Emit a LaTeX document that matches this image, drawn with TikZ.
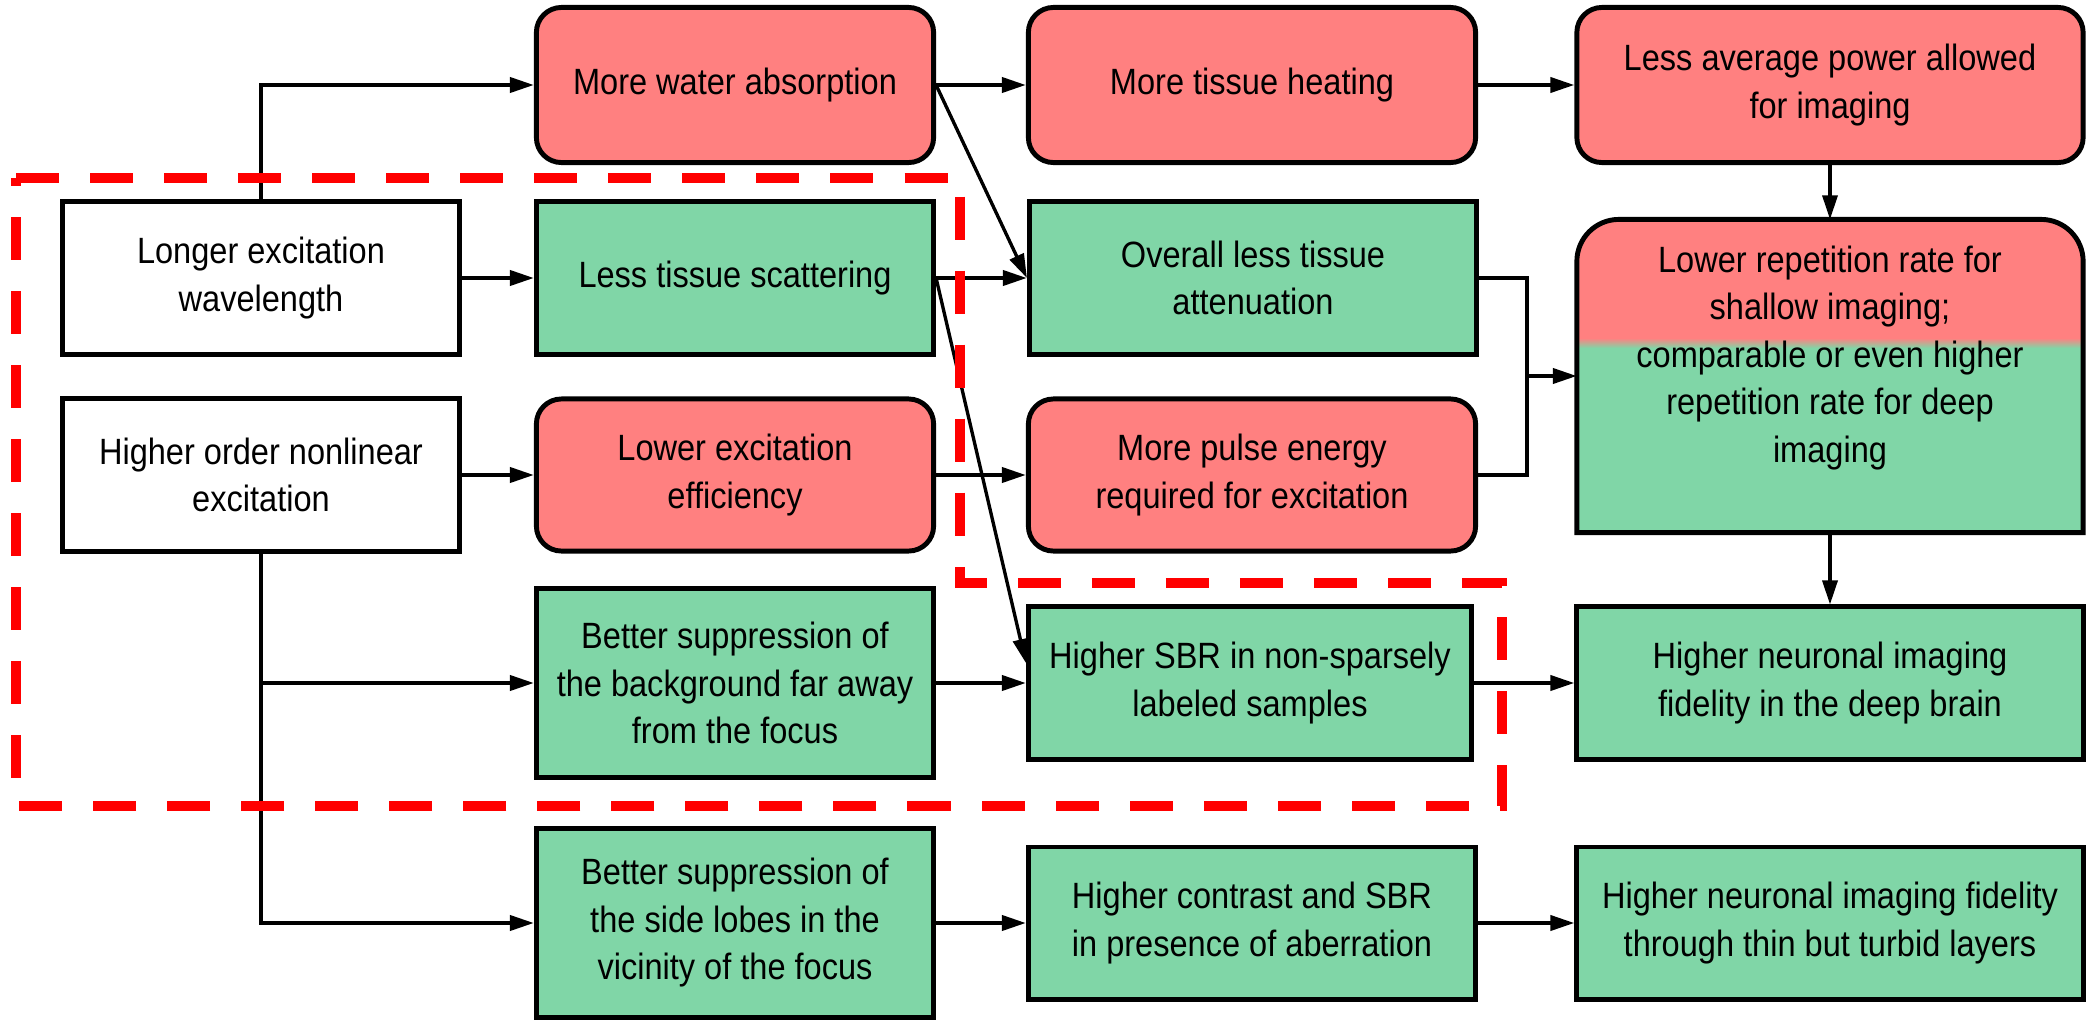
\documentclass[tikz,border=0pt]{standalone}
\usepackage{fontspec}
\setmainfont[FakeStretch=0.89]{Liberation Sans}
\usepackage{xcolor}
\usepackage{tikz}
\usetikzlibrary{arrows.meta,backgrounds}

\definecolor{badred}{RGB}{255,128,128}
\definecolor{goodgreen}{RGB}{128,214,167}

\tikzset{
  box/.style={draw, line width=1.4pt, align=center, inner sep=2pt,
    font=\fontsize{10.4}{13.5}\selectfont},
  plainbox/.style={box, fill=white},
  goodbox/.style={box, fill=goodgreen},
  badbox/.style={box, fill=badred, rounded corners=0.25cm},
  narrowcol/.style={minimum width=3.97cm},
  midcol/.style={minimum width=4.47cm},
  widecol/.style={minimum width=5.06cm},
  onerow/.style={minimum height=1.52cm},
  tallrow/.style={minimum height=1.89cm},
  conn/.style={line width=1.1pt, -{Triangle[length=0.24cm,width=0.15cm]}},
  thinconn/.style={line width=0.95pt, -{Triangle[length=0.24cm,width=0.15cm]}},
  highlight/.style={red, line width=2.85pt, dash pattern=on 0.43cm off 0.31cm},
}

\begin{document}
\begin{tikzpicture}[x=0.01cm,y=0.01cm]
\useasboundingbox (0,0) rectangle (2087,1023);

% Causes
\node[plainbox,narrowcol,onerow] (wave) at (261,745) {Longer excitation\\wavelength};
\node[plainbox,narrowcol,onerow] (order) at (261,548) {Higher order nonlinear\\excitation};

% First consequences
\node[badbox,narrowcol,minimum height=1.55cm] (water) at (735,938) {More water absorption};
\node[goodbox,narrowcol,onerow] (scat) at (735,745) {Less tissue scattering};
\node[badbox,narrowcol,onerow] (eff) at (735,548) {Lower excitation\\efficiency};
\node[goodbox,narrowcol,tallrow] (bgnd) at (735,340) {Better suppression of\\the background far away\\from the focus};
\node[goodbox,narrowcol,tallrow] (lobe) at (735,100) {Better suppression of\\the side lobes in the\\vicinity of the focus};

% Second consequences
\node[badbox,midcol,minimum height=1.55cm] (heat) at (1252,938) {More tissue heating};
\node[goodbox,midcol,onerow] (atten) at (1253,745) {Overall less tissue\\attenuation};
\node[badbox,midcol,onerow] (pulse) at (1252,548) {More pulse energy\\required for excitation};
\node[goodbox,minimum width=4.43cm,onerow] (sbr) at (1250,340) {Higher SBR in non-sparsely\\labeled samples};
\node[goodbox,midcol,onerow] (contr) at (1252,100) {Higher contrast and SBR\\in presence of aberration};

% Outcomes
\node[badbox,widecol,minimum height=1.55cm] (power) at (1830,938) {Less average power allowed\\for imaging};
\node[box,draw=none,widecol,minimum height=3.13cm,outer sep=0pt,text depth=0.44cm] (rep) at (1830,647)
  {Lower repetition rate for\\shallow imaging;\\comparable or even higher\\repetition rate for deep\\imaging};
\node[goodbox,widecol,onerow] (deep) at (1830,340) {Higher neuronal imaging\\fidelity in the deep brain};
\node[goodbox,widecol,onerow] (thin) at (1830,100) {Higher neuronal imaging fidelity\\through thin but turbid layers};

% Two-coloured box behind the repetition rate text
\begin{scope}[on background layer]
  \fill[badred] ([yshift=-0.42cm]rep.north west) arc[start angle=180,end angle=90,radius=0.42cm]
    -- ([xshift=-0.42cm]rep.north east) arc[start angle=90,end angle=0,radius=0.42cm]
    -- (2083,680) -- (1577,680) -- cycle;
  \fill[goodgreen] (1577,680) rectangle (rep.south east);
  \shade[top color=badred,bottom color=goodgreen] (1577,685) rectangle (2083,675);
  \draw[line width=1.4pt] (rep.south west) -- ([yshift=-0.42cm]rep.north west)
    arc[start angle=180,end angle=90,radius=0.42cm]
    -- ([xshift=-0.42cm]rep.north east) arc[start angle=90,end angle=0,radius=0.42cm]
    -- (rep.south east) -- cycle;
\end{scope}

% Straight arrows
\foreach \a/\b in {wave/scat, order/eff, water/heat, heat/power, scat/atten,
  eff/pulse, bgnd/sbr, sbr/deep, lobe/contr, contr/thin}
  \draw[conn] (\a.east) -- (\b.west);

% Branching arrows
\draw[conn] (wave.north) |- (water.west);
\draw[conn] (order.south) |- (bgnd.west);
\draw[conn] (order.south) |- (lobe.west);
\draw[thinconn] (water.east) -- (atten.west);
\draw[thinconn] (scat.east) -- ([yshift=0.2cm]sbr.west);

% Merge into the repetition rate box
\coordinate (merge) at (1527,647);
\draw[line width=1.1pt] (atten.east) -| (merge) |- (pulse.east);
\draw[conn] (merge) -- (rep.west);
\draw[thinconn] (power.south) -- (rep.north);
\draw[thinconn] (rep.south) -- (deep.north);

% Highlighted region
\draw[highlight] (16,845) -- (960,845) -- (960,440) -- (1502,440) -- (1502,217) -- (16,217) -- cycle;
\end{tikzpicture}
\end{document}
